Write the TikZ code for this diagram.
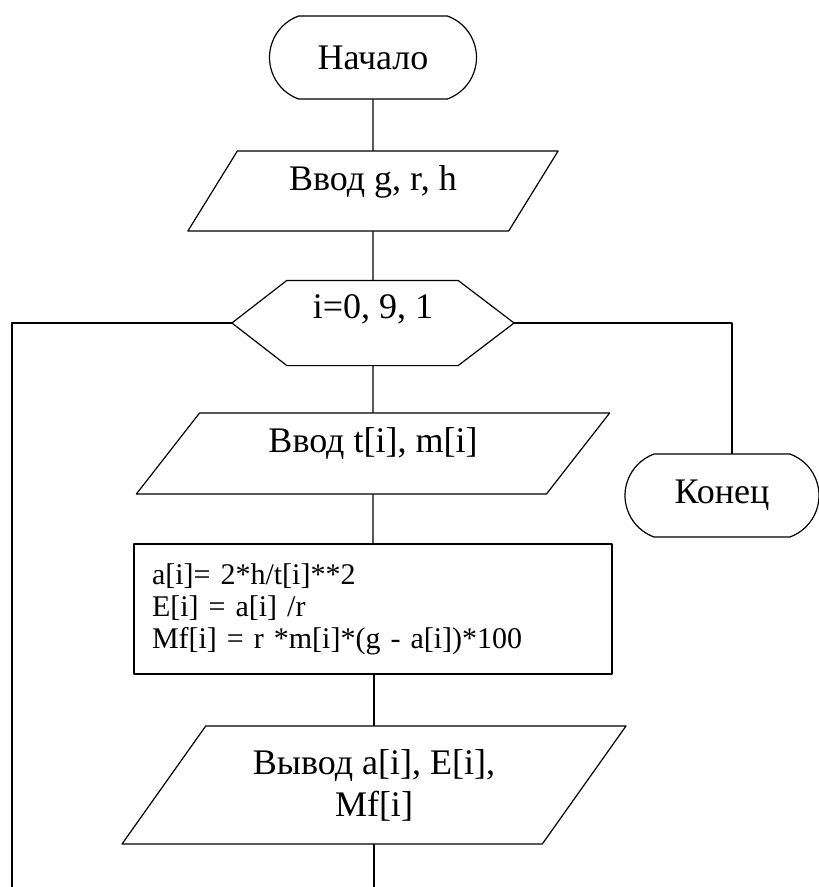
\documentclass[tikz,border=0pt]{standalone}
\usepackage{fontspec}
\setmainfont{Liberation Serif}
\usetikzlibrary{shapes.geometric, shapes.misc}
\newcommand{\raisetext}[2]{\raisebox{#1}[\height][\depth]{#2}}

\begin{document}
\begin{tikzpicture}[x=1pt, y=-1pt, line join=round, line cap=round, line width=1.2pt,
	font=\fontsize{36}{42}\selectfont,
	term/.style={draw, rounded rectangle, rounded rectangle arc length=140, minimum height=83pt, inner sep=0pt},
	inout/.style={draw, trapezium, trapezium stretches=true, inner sep=0pt},
	hexbox/.style={rectangle, minimum width=281pt, minimum height=84pt, inner sep=0pt},
	calcbox/.style={draw, rectangle, text width=442pt, inner xsep=18pt, inner ysep=0pt, minimum height=130pt, align=left, font=\fontsize{30}{32}\selectfont}]
	%%%%%%%%%%%%%%%%%%%%%%%%%%%%%%%%%
	\useasboundingbox (0,0) rectangle (819,887);
	\coordinate (bot) at (373,887);
	\coordinate (back) at (12,887);
	%%%%%%%%%%%%%%%%%%%%%%%%%%%%%%%%%
	\node[term, minimum width=207pt] (start) at (373,57.5) {Начало};
	\node[inout, trapezium left angle=47, trapezium right angle=133, minimum width=371pt, minimum height=80pt] (in1) at (373,191) {\raisetext{9pt}{Ввод g, r, h}};
	\node[hexbox] (loop) at (373,323) {\raisetext{14pt}{i=0, 9, 1}};
	\draw (loop.west) -- ([xshift=55pt]loop.north west) -- ([xshift=-56pt]loop.north east) -- (loop.east) -- ([xshift=-56pt]loop.south east) -- ([xshift=55pt]loop.south west) -- cycle;
	\node[inout, trapezium left angle=40, trapezium right angle=140, minimum width=475pt, minimum height=81pt] (in2) at (373,453.5) {\raisetext{10pt}{Ввод t[i], m[i]}};
	\node[calcbox] (calc) at (373,609) {a[i]= 2*h/t[i]**2\\E[i] = a[i] /r\\Mf[i] = r *m[i]*(g - a[i])*100};
	\node[inout, trapezium left angle=50, trapezium right angle=130, minimum width=506pt, minimum height=118pt, align=center] (out) at (374,785) {Вывод a[i], E[i],\\Mf[i]};
	\node[term, minimum width=194pt] (end) at (722,495.5) {Конец};
	%%%%%%%%%%%%%%%%%%%%%%%%%%%%%%%%%
	\draw (start.south) -- (in1.north);
	\draw (in1.south) -- (loop.north);
	\draw (loop.south) -- (in2.north);
	\draw (in2.south) -- (calc.north);
	\draw (calc.south) -- (out.south |- calc.south) -- (out.north);
	\draw (out.south) -- (out.south |- bot);
	\draw (loop.west) -| (back);
	\draw (loop.east) -| ([xshift=10pt]end.north);
	%%%%%%%%%%%%%%%%%%%%%%%%%%%%%%%%%
\end{tikzpicture}
\end{document}
